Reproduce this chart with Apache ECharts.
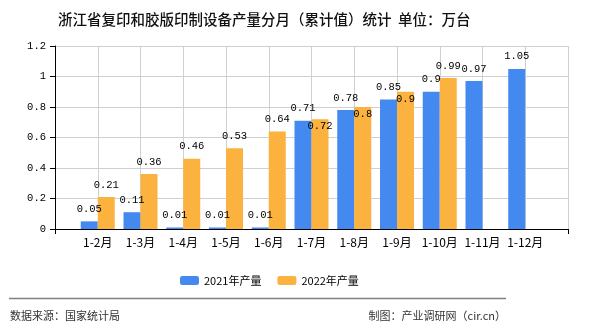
<!DOCTYPE html>
<html><head><meta charset="utf-8">
<script src="https://cdn.jsdelivr.net/npm/echarts@6/dist/echarts.min.js"></script>
<style>html,body{margin:0;padding:0;background:#fff}#c{width:590px;height:330px}</style>
</head><body><div id="c"></div>
<script>
const categories = ["", "1-2月", "1-3月", "1-4月", "1-5月", "1-6月", "1-7月", "1-8月", "1-9月", "1-10月", "1-11月", "1-12月", ""];
const values2021 = [null, 0.05, 0.11, 0.01, 0.01, 0.01, 0.71, 0.78, 0.85, 0.9, 0.97, 1.05, null];
const values2022 = [null, 0.21, 0.36, 0.46, 0.53, 0.64, 0.72, 0.8, 0.9, 0.99, null, null, null];
const yTicks = [0, 0.2, 0.4, 0.6, 0.8, 1, 1.2];
const FONT = '"Noto Sans CJK SC", sans-serif';
const MONO = '"Liberation Mono", "Noto Sans CJK SC", monospace';
const chart = echarts.init(document.getElementById('c'));
const lbl = {show: true, position: 'top', color: '#000', fontSize: 10.5, fontFamily: MONO, distance: 7,
  formatter: p => p.value == null ? '' : String(p.value)};
// labels of 2022 that would collide with the 2021 label are pushed inside the bar top
const data2022 = values2022.map((v, i) => {
  const other = values2021[i];
  const clash = v != null && other != null && Math.abs(v - other) < 0.08;
  return clash ? {value: v, label: {position: 'insideTop', distance: 2}} : v;
});
chart.setOption({
  animation: false,
  title: {text: '浙江省复印和胶版印制设备产量分月（累计值）统计  单位：万台', left: 53, top: 7,
    textStyle: {fontSize: 14.5, fontWeight: 500, color: '#111', fontFamily: FONT}},
  legend: {left: 175, top: 270, itemWidth: 19, itemHeight: 9, itemGap: 16,
    textStyle: {fontSize: 11, color: '#000', fontFamily: FONT},
    data: ['2021年产量', '2022年产量']},
  grid: {left: 55, right: 22, top: 46, bottom: 101},
  xAxis: {type: 'category', data: categories, boundaryGap: false,
    axisLine: {lineStyle: {color: '#000'}},
    axisTick: {show: true, length: 5, interval: (i) => i === 0 || i === categories.length - 1, lineStyle: {color: '#000'}},
    axisLabel: {color: '#000', fontSize: 12, fontFamily: FONT, margin: 7, interval: 0},
    splitLine: {show: true, lineStyle: {color: '#d0d0d0'}}},
  yAxis: {type: 'value', min: 0, max: 1.2, interval: 0.2,
    axisLine: {show: true, lineStyle: {color: '#000'}},
    axisTick: {show: true, length: 5, lineStyle: {color: '#000'}},
    axisLabel: {color: '#000', fontSize: 10.5, fontFamily: MONO, margin: 9,
      formatter: v => { const t = yTicks.find(x => Math.abs(x - v) < 1e-9); return t === undefined ? '' : String(t); }},
    splitLine: {show: true, lineStyle: {color: '#d0d0d0'}}},
  series: [
    {name: '2021年产量', type: 'bar', data: values2021, barWidth: 17, barGap: '0%',
      itemStyle: {color: '#4389ef'}, label: lbl},
    {name: '2022年产量', type: 'bar', data: data2022, barWidth: 17, barGap: '0%',
      itemStyle: {color: '#fbb23f'}, label: lbl}
  ],
  graphic: [
    {type: 'line', shape: {x1: 9, y1: 298.5, x2: 506, y2: 298.5}, style: {stroke: '#808080', lineWidth: 1.5}},
    {type: 'text', left: 10, top: 310, style: {text: '数据来源：国家统计局', fontSize: 11, fill: '#333', fontFamily: FONT}},
    {type: 'text', right: 84, top: 310, style: {text: '制图：产业调研网（cir.cn）', fontSize: 11, fill: '#333', fontFamily: FONT}}
  ]
});
</script></body></html>
